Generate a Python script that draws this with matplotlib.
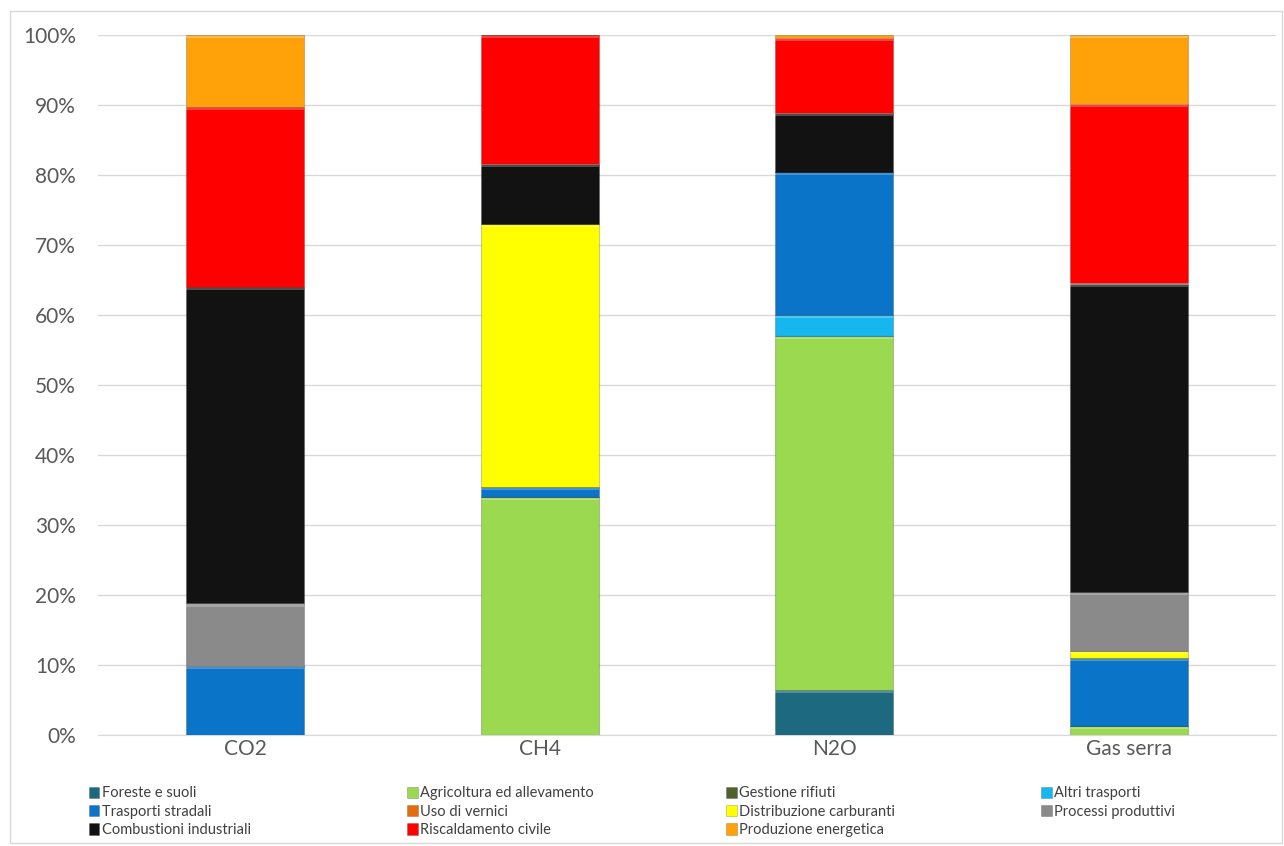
import matplotlib
matplotlib.use("Agg")
import matplotlib.pyplot as plt
from matplotlib.patches import Patch, Rectangle
import numpy as np

plt.rcParams['font.family'] = ['Lato', 'DejaVu Sans']

gases = ["CO2", "CH4", "N2O", "Gas serra"]
sources = ["Foreste e suoli", "Agricoltura ed allevamento", "Gestione rifiuti",
           "Altri trasporti", "Trasporti stradali", "Uso di vernici",
           "Distribuzione carburanti", "Processi produttivi",
           "Combustioni industriali", "Riscaldamento civile", "Produzione energetica"]
colors = ["#1d6a80", "#9bd950", "#4f6228", "#15b7ee", "#0a74c8", "#e46c0a",
          "#ffff00", "#8a8a8a", "#121212", "#ff0000", "#ffa20a"]

# share (%) per source, ordered as gases
foreste = [0.0, 0.0, 6.4, 0.0]
agricoltura = [0.0, 34.0, 50.6, 1.3]
rifiuti = [0.0, 0.0, 0.0, 0.0]
altri_trasp = [0.0, 0.0, 3.0, 0.0]
trasp_strad = [9.9, 1.4, 20.4, 9.7]
vernici = [0.0, 0.0, 0.0, 0.0]
distribuzione = [0.0, 37.6, 0.0, 1.0]
processi = [8.9, 0.0, 0.0, 8.4]
combustioni = [45.2, 8.6, 8.5, 44.1]
riscaldamento = [25.7, 18.4, 10.7, 25.7]
produzione = [10.3, 0.0, 0.4, 9.8]

series = [foreste, agricoltura, rifiuti, altri_trasp, trasp_strad, vernici,
          distribuzione, processi, combustioni, riscaldamento, produzione]

fig = plt.figure(figsize=(12.84, 8.46), dpi=100)
ax = fig.add_axes([98 / 1284, 111 / 846, 1178 / 1284, 700 / 846])

x = np.arange(len(gases))
bottom = np.zeros(len(gases))
for name, vals, c in zip(sources, series, colors):
    vals = np.array(vals)
    ax.bar(x, vals, 0.4, bottom=bottom, color=c, edgecolor="#00000030",
           linewidth=0.8, zorder=3, label=name)
    # light bevel strip at top of each segment
    mask = vals > 0.8
    ax.bar(x[mask], np.full(mask.sum(), 0.35), 0.4, bottom=(bottom + vals)[mask] - 0.45,
           color="white", alpha=0.25, linewidth=0, zorder=4)
    bottom += vals

ax.set_xlim(-0.5, 3.5)
ax.set_ylim(0, 100)
ax.set_yticks(np.arange(0, 101, 10))
ax.set_yticklabels([f"{v}%" for v in range(0, 101, 10)])
ax.set_xticks(x)
ax.set_xticklabels(gases)
ax.tick_params(axis="both", length=0, labelsize=15, labelcolor="#595959")
ax.tick_params(axis="y", pad=16)
ax.tick_params(axis="x", pad=3)
ax.grid(axis="y", color="#d9d9d9", linewidth=1, zorder=0)
for s in ["left", "right", "top"]:
    ax.spines[s].set_visible(False)
ax.spines["bottom"].set_color("#d9d9d9")

fig.patches.append(Rectangle((10 / 1284, 3 / 846), 1272 / 1284, 832 / 846,
                             transform=fig.transFigure, fill=False,
                             edgecolor="#d9d9d9", linewidth=1))

handles = [Patch(facecolor=c, edgecolor="#00000040", linewidth=0.5) for c in colors]
cols = [[0, 4, 8], [1, 5, 9], [2, 6, 10], [3, 7]]
xs = [82, 400, 719, 1034]
for xpos, idx in zip(xs, cols):
    fig.legend([handles[i] for i in idx], [sources[i] for i in idx],
               loc="upper left", bbox_to_anchor=(xpos / 1284, 1 - 779 / 846),
               frameon=False, fontsize=10.5, handlelength=0.7, handleheight=0.8,
               handletextpad=0.2, labelspacing=0.3, borderpad=0,
               labelcolor="#404040")

fig.savefig("out.png", dpi=100)
